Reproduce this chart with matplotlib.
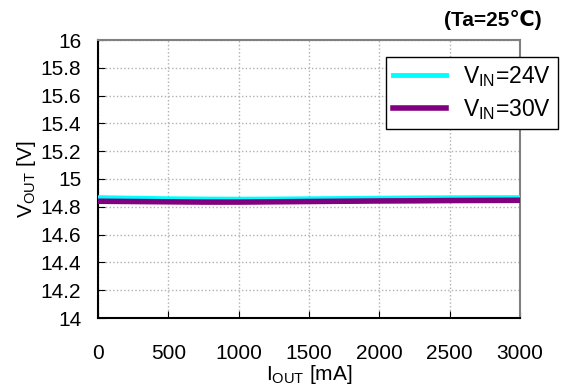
import matplotlib.pyplot as plt

# output current [mA]
i_out = [0, 250, 500, 750, 1000, 1250, 1500, 1750, 2000, 2250, 2500, 2750, 3000]
# output voltage [V] for each input voltage
v_24 = [14.866, 14.862, 14.858, 14.856, 14.855, 14.856, 14.858, 14.860, 14.862, 14.864, 14.865, 14.866, 14.866]
v_30 = [14.840, 14.838, 14.836, 14.834, 14.834, 14.836, 14.838, 14.840, 14.842, 14.843, 14.845, 14.846, 14.847]

xticks = [0, 500, 1000, 1500, 2000, 2500, 3000]
yticks = [14, 14.2, 14.4, 14.6, 14.8, 15, 15.2, 15.4, 15.6, 15.8, 16]
ytick_labels = ['14', '14.2', '14.4', '14.6', '14.8', '15', '15.2', '15.4', '15.6', '15.8', '16']

plt.rcParams['font.family'] = ['Liberation Sans', 'DejaVu Sans']
plt.rcParams['mathtext.fontset'] = 'custom'
plt.rcParams['mathtext.rm'] = 'Liberation Sans'

fig = plt.figure(figsize=(5.65, 3.87), dpi=100)
ax = fig.add_axes([98 / 565, 1 - 318 / 387, (520 - 98) / 565, (318 - 40) / 387])

ax.plot(i_out, v_24, color='#00ffff', lw=3.5, label=r'$\mathregular{V_{IN}}$=24V', zorder=3)
ax.plot(i_out, v_30, color='#800080', lw=4, label=r'$\mathregular{V_{IN}}$=30V', zorder=4)

ax.set_xlim(0, 3000)
ax.set_ylim(14, 16)
ax.set_xticks(xticks)
ax.set_yticks(yticks)
ax.set_yticklabels(ytick_labels)
ax.tick_params(direction='in', length=5, labelsize=15, colors='black')
ax.tick_params(axis='x', pad=19)
ax.tick_params(axis='y', pad=12)
ax.grid(True, color='#b0b0b0', linestyle=':', linewidth=1)

for side in ['left', 'bottom']:
    ax.spines[side].set_color('black')
    ax.spines[side].set_linewidth(1.5)
for side in ['top', 'right']:
    ax.spines[side].set_color('#808080')
    ax.spines[side].set_linewidth(1.5)

ax.set_xlabel(r'$\mathregular{I_{OUT}}$ [mA]', fontsize=15, labelpad=0)
ax.set_ylabel(r'$\mathregular{V_{OUT}}$ [V]', fontsize=15, labelpad=2)

fig.text(542 / 565, 1 - 20 / 387, '(Ta=25℃)', fontsize=15, fontweight='bold',
         ha='right', va='center')

leg = fig.legend(loc='upper left', bbox_to_anchor=(386 / 565, 1 - 57 / 387),
                 fontsize=16.5, frameon=True, fancybox=False, handlelength=2.3,
                 borderaxespad=0, borderpad=0.3, labelspacing=0.35, handletextpad=0.75)
leg.get_frame().set_edgecolor('black')
leg.get_frame().set_linewidth(1)
leg.get_frame().set_alpha(1)

fig.savefig('out.png', dpi=100)
